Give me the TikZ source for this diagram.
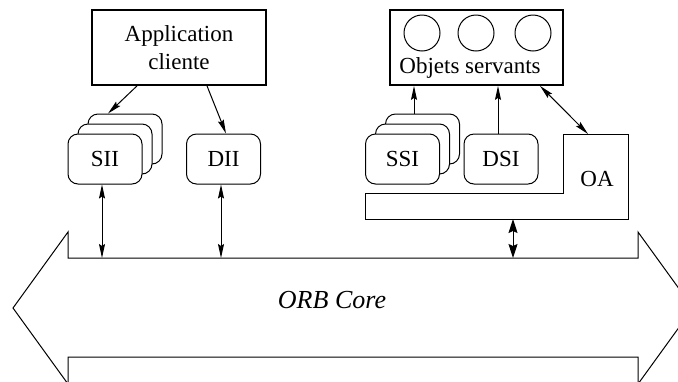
\documentclass[tikz,border=0pt]{standalone}
\usepackage{fontspec}
\setmainfont{Liberation Serif}
\usetikzlibrary{arrows.meta, positioning}

\begin{document}
\begin{tikzpicture}[x=0.5pt, y=-0.5pt, line width=0.5pt,
    font=\fontsize{11.5}{14}\selectfont,
    iface/.style={draw, fill=white, rounded corners=5pt, minimum width=37pt, minimum height=25pt},
    bigbox/.style={draw, line width=0.9pt, minimum width=87pt, minimum height=37.5pt},
    arr/.style={-{Stealth[length=7pt, width=3pt, inset=1pt]}},
    darr/.style={{Stealth[length=7pt, width=3pt, inset=1pt]}-{Stealth[length=7pt, width=3pt, inset=1pt]}},
    fatarr/.style={{Stealth[length=7pt, width=4.5pt, inset=1pt]}-{Stealth[length=7pt, width=4.5pt, inset=1pt]}}]
  \useasboundingbox (0,0) rectangle (678,381);
  \clip (0,0) rectangle (678,381);

  \node[bigbox, align=center] (app) at (179,47.5) {Application\\cliente};
  \node[bigbox, minimum width=86.5pt] (obj) at (476.5,47.5) {};
  \foreach \x [count=\i] in {422,476,533}
    \node[draw, circle, minimum size=18pt, inner sep=0pt] (c\i) at (\x,33) {};
  \node (objtxt) at (470,68) {Objets servants};

  \foreach \k/\d in {3/20,2/10} {
    \node[iface] (sii\k) at (105+\d,159-\d) {};
    \node[iface] (ssi\k) at (402.5+\d,159-\d) {};
  }
  \node[iface] (sii) at (105,159) {SII};
  \node[iface] (dii) at (223.5,159) {DII};
  \node[iface] (ssi) at (402.5,159) {SSI};
  \node[iface] (dsi) at (501,159) {DSI};

  \draw (563,134) -- (628,134) -- (628,219) -- (365,219) -- (365,193) -- (563,193) -- cycle;
  \node (oa) at (597,179) {OA};
  \coordinate (oatop) at (588,134);
  \coordinate (oabot) at (513,219);

  \draw (13,308) -- (68,232) -- (68,258) -- (638,258) -- (638,232) -- (693,308)
    -- (638,384) -- (638,357) -- (68,357) -- (68,384) -- cycle;
  \coordinate (bus) at (68,258);
  \node[font=\fontsize{13}{15}\selectfont\itshape] (orb) at (332,300) {ORB Core};

  \draw[arr] ([xshift=-21pt]app.south) -- ([xshift=-8.5pt]sii3.north);
  \draw[arr] ([xshift=14pt]app.south) -- ([xshift=1.25pt]dii.north);
  \draw[darr] ([xshift=-1.5pt]sii.south) -- ([xshift=-1.5pt]sii.south |- bus);
  \draw[darr] ([xshift=-1.25pt]dii.south) -- ([xshift=-1.25pt]dii.south |- bus);
  \draw[fatarr] (oabot) -- (oabot |- bus);
  \draw[arr] ([xshift=-4.25pt]ssi3.north) -- ([xshift=-4.25pt]ssi3.north |- obj.south);
  \draw[arr] ([xshift=-1.5pt]dsi.north) -- ([xshift=-1.5pt]dsi.north |- obj.south);
  \draw[darr] ([xshift=31.75pt]obj.south) -- (oatop);
\end{tikzpicture}
\end{document}
